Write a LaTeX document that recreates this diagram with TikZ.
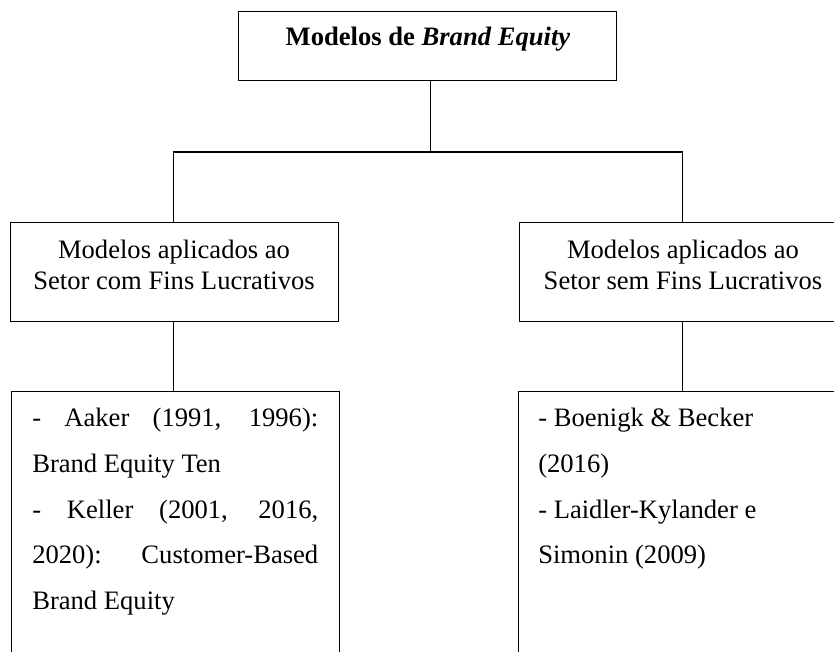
\documentclass[tikz,border=0pt]{standalone}
\usepackage{fontspec}
\setmainfont{Liberation Serif}
\begin{document}
\begin{tikzpicture}[x=0.75pt,y=-0.75pt,
  box/.style={draw=black,line width=1.1pt,inner sep=0pt,anchor=north west},
  link/.style={draw=black,line width=1.1pt},
  txt/.style={inner sep=0pt,font=\fontsize{19.95}{24}\selectfont},
  line/.style={txt,anchor=base west}]
\clip (0,0) rectangle (834,652);
\fill[white] (0,0) rectangle (834,652);

% boxes
\node[box,minimum width=378*0.75pt,minimum height=69*0.75pt] (top) at (238,11) {};
\node[box,minimum width=328*0.75pt,minimum height=99*0.75pt] (lucro) at (10,222) {};
\node[box,minimum width=328*0.75pt,minimum height=99*0.75pt] (semlucro) at (519,222) {};
\node[box,minimum width=328*0.75pt,minimum height=320*0.75pt] (listA) at (11,391) {};
\node[box,minimum width=328*0.75pt,minimum height=320*0.75pt] (listB) at (518,391) {};

% connectors
\coordinate (hub) at (430.5,152);
\coordinate (hubL) at (173.5,152);
\coordinate (hubR) at (682.5,152);
\draw[link] (top.south -| hub) -- (hub);
\draw[link] (lucro.north -| hubL) -- (hubL) -- (hubR) -- (semlucro.north -| hubR);
\draw[link] (lucro.south -| hubL) -- (listA.north -| hubL);
\draw[link] (semlucro.south -| hubR) -- (listB.north -| hubR);

% titles
\node[txt,anchor=base] (title) at (428,46) {\textbf{Modelos de \textit{Brand Equity}}};
\node[txt,anchor=base] (lucroA) at (174,258) {Modelos aplicados ao};
\node[txt,anchor=base] (lucroB) at (174,289) {Setor com Fins Lucrativos};
\node[txt,anchor=base] (semA) at (683,258) {Modelos aplicados ao};
\node[txt,anchor=base] (semB) at (683,289) {Setor sem Fins Lucrativos};

% justified list, for-profit models
\node[line] (a1) at (32,426) {\makebox[214.5pt][s]{- Aaker (1991, 1996):}};
\node[line] (a2) at (32,472) {Brand Equity Ten};
\node[line] (a3) at (32,518) {\makebox[214.5pt][s]{- Keller (2001, 2016,}};
\node[line] (a4) at (32,563) {\makebox[214.5pt][s]{2020): Customer-Based}};
\node[line] (a5) at (32,609) {Brand Equity};

% list, non-profit models
\node[line] (b1) at (538,426) {- Boenigk \& Becker};
\node[line] (b2) at (538,472) {(2016)};
\node[line] (b3) at (538,518) {- Laidler-Kylander e};
\node[line] (b4) at (538,563) {Simonin (2009)};
\end{tikzpicture}
\end{document}
